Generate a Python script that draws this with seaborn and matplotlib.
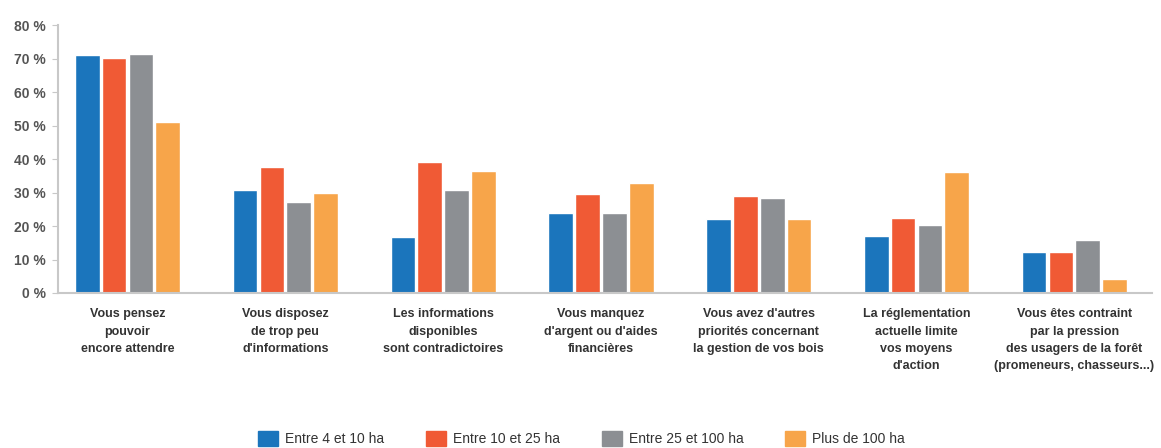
import matplotlib
matplotlib.use("Agg")
import matplotlib.pyplot as plt
import matplotlib.patches as mpatches
import pandas as pd
import seaborn as sns

categories = [
    "Vous pensez\npouvoir\nencore attendre",
    "Vous disposez\nde trop peu\nd'informations",
    "Les informations\ndisponibles\nsont contradictoires",
    "Vous manquez\nd'argent ou d'aides\nfinancières",
    "Vous avez d'autres\npriorités concernant\nla gestion de vos bois",
    "La réglementation\nactuelle limite\nvos moyens\nd'action",
    "Vous êtes contraint\npar la pression\ndes usagers de la forêt\n(promeneurs, chasseurs...)",
]
series = ["Entre 4 et 10 ha", "Entre 10 et 25 ha", "Entre 25 et 100 ha", "Plus de 100 ha"]
entre_4_10 = [71.0, 30.7, 16.8, 23.8, 22.0, 17.0, 12.2]
entre_10_25 = [70.1, 37.6, 39.0, 29.6, 29.0, 22.5, 12.2]
entre_25_100 = [71.3, 27.2, 30.7, 23.8, 28.5, 20.3, 15.8]
plus_100 = [51.0, 29.9, 36.5, 32.8, 22.0, 36.2, 4.3]
yticks = [0, 10, 20, 30, 40, 50, 60, 70, 80]

colors = ["#1b75bc", "#f05a35", "#8c8f93", "#f7a54a"]

rows = []
for name, vals in zip(series, [entre_4_10, entre_10_25, entre_25_100, plus_100]):
    for cat, v in zip(categories, vals):
        rows.append({"cat": cat, "serie": name, "val": v})
df = pd.DataFrame(rows)

sns.set_style("white")
plt.rcParams['font.family'] = ['Liberation Sans', 'DejaVu Sans']

fig = plt.figure(figsize=(11.61, 4.48), dpi=100)
ax = fig.add_axes([0.05, 0.346, 0.942, 0.598])

sns.barplot(data=df, x="cat", y="val", hue="serie", palette=colors,
            width=0.68, gap=0.08, saturation=1, ax=ax, legend=False)

ax.set_ylim(0, 80)
ax.set_xlim(-0.44, 6.49)
ax.set_yticks(yticks)
ax.set_yticklabels([f"{t} %" for t in yticks], fontsize=10,
                   fontweight="bold", color="#555555")
ax.set_xticks(range(len(categories)))
ax.set_xticklabels(categories, fontsize=9, fontweight="bold",
                   color="#333333", linespacing=1.6, va="top")
ax.tick_params(axis="y", length=4, color="#c8c8c8", pad=5, left=True)
ax.tick_params(axis="x", length=0, pad=11)
ax.set_xlabel("")
ax.set_ylabel("")
for s in ["top", "right"]:
    ax.spines[s].set_visible(False)
for s in ["left", "bottom"]:
    ax.spines[s].set_color("#c8c8c8")
    ax.spines[s].set_linewidth(1.5)

handles = [mpatches.Patch(color=c, label=l) for c, l in zip(colors, series)]
leg = fig.legend(handles=handles, loc="center", bbox_to_anchor=(0.501, 0.022),
                 ncol=4, frameon=False, handlelength=1.45,
                 handleheight=1.3, columnspacing=3.0, handletextpad=0.5,
                 prop={"size": 10})
for t in leg.get_texts():
    t.set_color("#333333")

fig.savefig("out.png", dpi=100)
